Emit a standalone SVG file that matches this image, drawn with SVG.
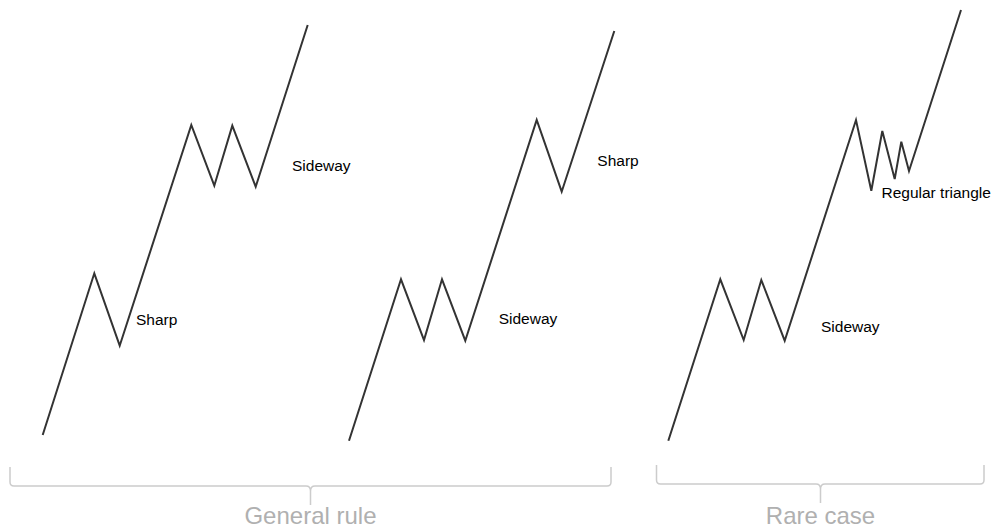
<svg xmlns="http://www.w3.org/2000/svg" width="995" height="529" viewBox="0 0 995 529">
<style>
.trend{fill:none;stroke:#333;stroke-width:2;stroke-linejoin:miter;stroke-linecap:butt}
.brace{fill:none;stroke:#cccccc;stroke-width:1.5}
.lbl{font-family:"Liberation Sans",Arial,sans-serif;font-size:15.5px;fill:#000}
.cap{font-family:"Liberation Sans",Arial,sans-serif;font-size:24px;fill:#b0b0b0;text-anchor:middle}
</style>
<rect width="995" height="529" fill="#fff"/>
<g id="connectors">
<polyline id="chart1" class="trend" points="42.7,435 94.3,273.3 119.7,345.7 191.3,125 214.3,185.7 232.3,125.7 255.7,186.7 307.7,25"/>
<polyline id="chart2" class="trend" points="349,440.7 401,279.3 424,340 442,279.3 465.3,340.7 536.7,120 561.7,191.7 614.3,31"/>
<polyline id="chart3" class="trend" points="668.3,440.7 720.3,279.3 743.7,340 761.3,280 784.7,340.7 856,120 871.3,190.7 882.3,131 894.7,179 901.3,141.7 909,171 961,10"/>
</g>
<g id="label-sharp-1"><text class="lbl" x="136" y="325">Sharp</text></g>
<g id="label-sideway-1"><text class="lbl" x="292" y="170.5">Sideway</text></g>
<g id="label-sideway-2"><text class="lbl" x="498.7" y="324">Sideway</text></g>
<g id="label-sharp-2"><text class="lbl" x="597.3" y="165.5">Sharp</text></g>
<g id="label-sideway-3"><text class="lbl" x="821" y="331.5">Sideway</text></g>
<g id="label-triangle"><text class="lbl" x="881.5" y="197.5">Regular triangle</text></g>
<g id="brace-general">
<path class="brace" d="M10,467 V482 Q10,486 14,486 H306 Q310.5,486 310.5,491 V505 M310.5,491 Q310.5,486 315,486 H607 Q611,486 611,482 V467"/>
<text class="cap" x="310.5" y="524">General rule</text>
</g>
<g id="brace-rare">
<path class="brace" d="M656.5,465 V480 Q656.5,484 660.5,484 H816 Q820.5,484 820.5,489 V503 M820.5,489 Q820.5,484 825,484 H980 Q984,484 984,480 V465"/>
<text class="cap" x="820.5" y="524">Rare case</text>
</g>
</svg>
